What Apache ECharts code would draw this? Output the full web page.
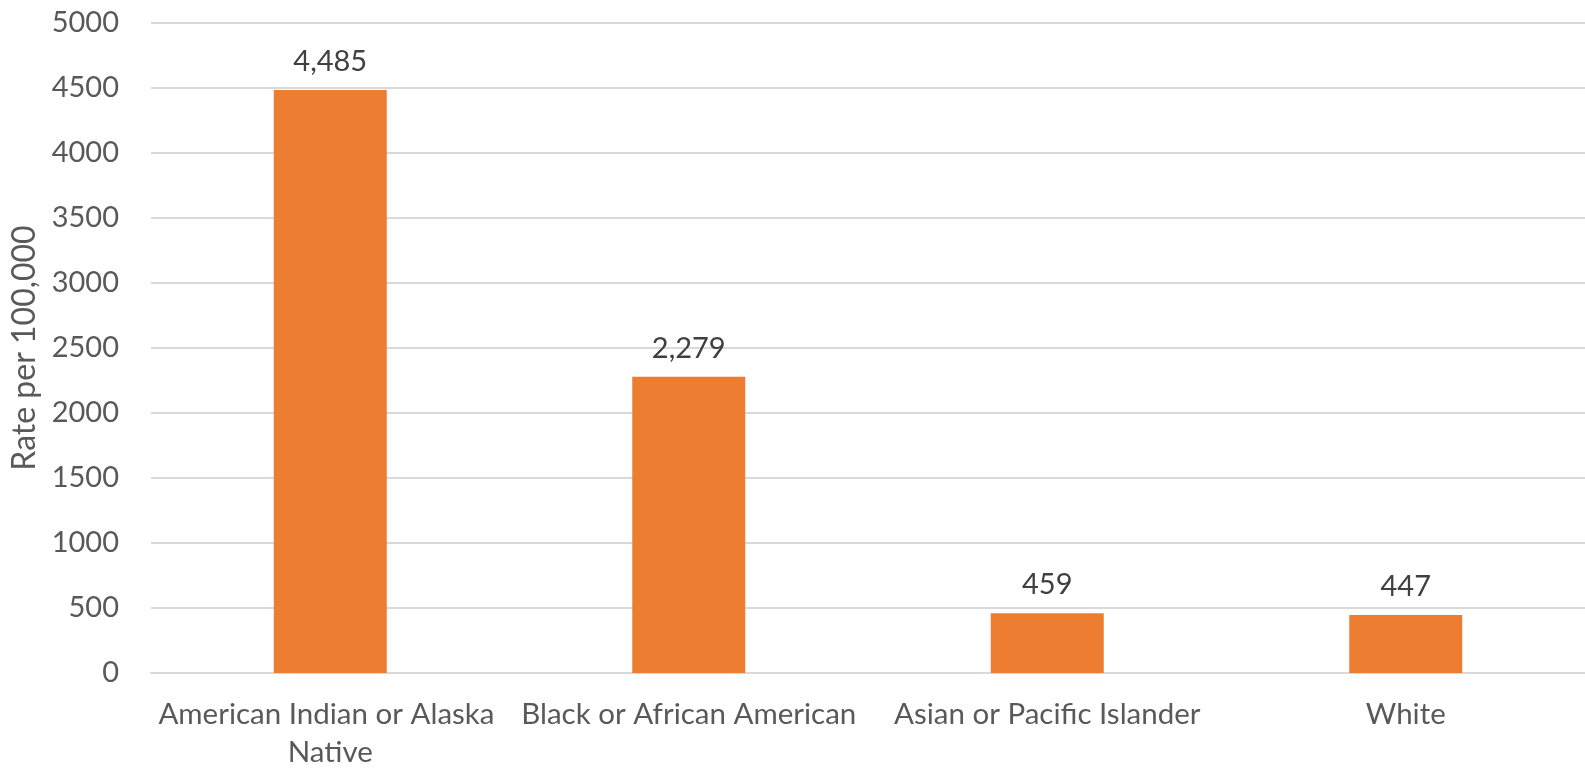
<!DOCTYPE html>
<html>
<head>
<meta charset="utf-8">
<script src="https://cdn.jsdelivr.net/npm/echarts@6/dist/echarts.min.js"></script>
<style>
html,body{margin:0;padding:0;background:#fff;}
#chart{width:1585px;height:771px;}
</style>
</head>
<body>
<div id="chart"></div>
<script>
const categories = ["American Indian or Alaska Native", "Black or African American", "Asian or Pacific Islander", "White"];
const rates = [4485, 2279, 459, 447];
const yTicks = [0, 500, 1000, 1500, 2000, 2500, 3000, 3500, 4000, 4500, 5000];
const yTitle = "Rate per 100,000";

const FONT = "Lato";
const chart = echarts.init(document.getElementById('chart'));
chart.setOption({
  animation: false,
  grid: { left: 151, right: -3, top: 23, bottom: 92, containLabel: false },
  xAxis: {
    type: 'category',
    data: categories,
    axisLine: { show: true, lineStyle: { color: '#d9d9d9', width: 2 } },
    axisTick: { show: false },
    axisLabel: {
      color: '#595959', fontFamily: FONT, fontSize: 29.5, lineHeight: 38,
      margin: 22, width: 345, overflow: 'break', interval: 0
    }
  },
  yAxis: {
    type: 'value',
    min: yTicks[0], max: yTicks[yTicks.length - 1], interval: 500,
    name: yTitle,
    nameLocation: 'middle',
    nameGap: 110,
    nameTextStyle: { color: '#595959', fontFamily: FONT, fontSize: 32 },
    axisLine: { show: false },
    axisTick: { show: false },
    splitLine: { lineStyle: { color: '#d9d9d9', width: 2 } },
    axisLabel: { color: '#595959', fontFamily: FONT, fontSize: 29, margin: 32, formatter: v => String(v) }
  },
  series: [{
    type: 'bar',
    data: rates,
    barWidth: 113,
    itemStyle: { color: '#ED7D31' },
    label: {
      show: true, position: 'top', distance: 14,
      color: '#404040', fontFamily: FONT, fontSize: 29,
      formatter: p => p.value.toLocaleString('en-US')
    }
  }]
});
</script>
</body>
</html>
